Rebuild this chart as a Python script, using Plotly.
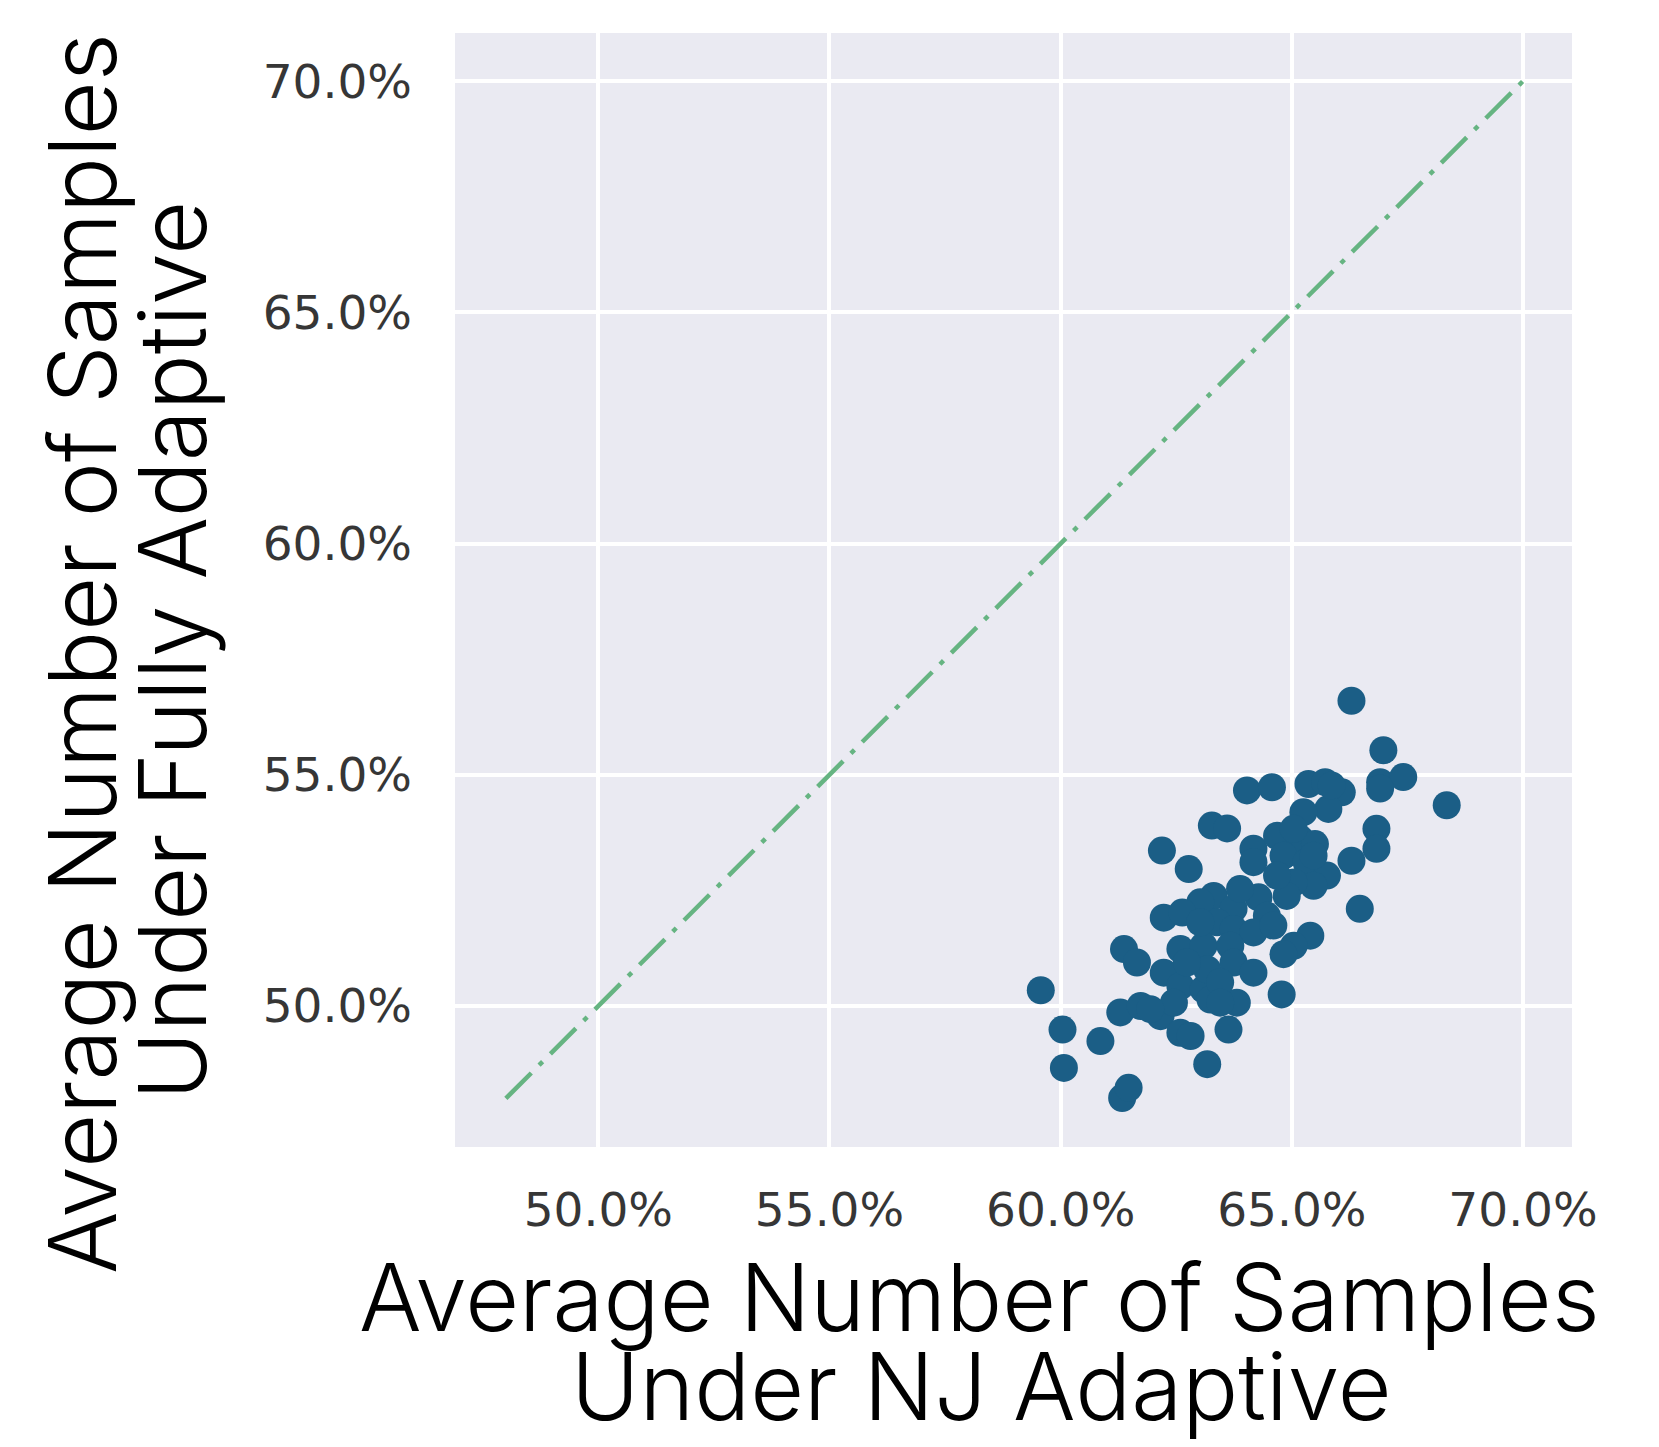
import plotly.graph_objects as go

# Data (percent values)
nj_adaptive = [66.29, 66.98, 66.91, 67.41, 66.91, 68.35, 64.03, 64.57, 65.36, 65.72,
               66.08, 65.79, 65.25, 63.27, 63.60, 62.19, 62.77, 64.17, 64.68, 65.18,
               65.50, 64.17, 64.82, 65.32, 66.83, 66.83, 66.29, 65.76, 65.47, 65.04,
               64.89, 64.28, 66.47, 63.31, 63.02, 63.74, 62.23, 62.63, 63.38, 64.46,
               63.74, 64.17, 65.40, 65.04, 64.82, 61.37, 61.65, 62.59, 63.09, 63.67,
               62.23, 62.59, 63.09, 63.17, 63.74, 64.17, 63.81, 64.78, 59.57, 60.04,
               60.86, 61.29, 61.73, 62.16, 62.59, 62.81, 63.63, 63.17, 60.07, 61.33,
               61.47, 63.24, 63.45, 62.45, 61.94, 63.02, 64.68, 65.47, 65.04, 65.86,
               63.88, 64.60, 62.73, 63.45]
fully_adaptive = [56.60, 55.53, 54.84, 54.95, 54.70, 54.34, 54.66, 54.73, 54.80, 54.84,
                  54.62, 54.26, 54.19, 53.90, 53.84, 53.36, 52.96, 53.40, 53.68, 53.61,
                  53.50, 53.11, 53.25, 53.11, 53.83, 53.40, 53.14, 52.82, 52.60, 52.67,
                  52.38, 52.35, 52.10, 52.38, 52.24, 52.10, 51.91, 52.02, 51.81, 51.95,
                  51.66, 51.59, 51.52, 51.30, 51.12, 51.23, 50.94, 51.23, 51.30, 51.30,
                  50.72, 50.43, 50.36, 50.79, 50.94, 50.72, 50.07, 50.25, 50.34, 49.49,
                  49.24, 49.86, 50.00, 49.78, 49.42, 49.35, 49.49, 48.74, 48.66, 48.01,
                  48.23, 50.14, 50.51, 50.07, 49.93, 51.81, 52.82, 53.25, 53.83, 54.77,
                  52.53, 51.74, 50.94, 50.07]
diag = [48, 70]
tick_vals = [50, 55, 60, 65, 70]
tick_text = ["50.0%", "55.0%", "60.0%", "65.0%", "70.0%"]
x_range = [46.9, 71.06]
y_range = [46.95, 71.04]

OFF = 8  # browser body margin
W, H = 1659 - 2 * OFF, 1447 - 2 * OFF
# plot area in page pixels: x 455..1572, y 33..1147
L = 455 - OFF
T = 33 - OFF
R = W - (1572 - OFF)
B = H - (1147 - OFF)
pw = W - L - R
ph = H - T - B


def px(x):
    return (x - OFF - L) / pw


def py(y):
    return (H - B - (y - OFF)) / ph


fig = go.Figure()
fig.add_trace(go.Scatter(
    x=diag, y=diag, mode="lines",
    line=dict(color="#66b482", width=4.5, dash="36px,11px,5px,11px"),
    hoverinfo="skip", showlegend=False))
fig.add_trace(go.Scatter(
    x=nj_adaptive, y=fully_adaptive, mode="markers",
    marker=dict(color="#1b5e86", size=28, line=dict(width=0)),
    showlegend=False))

tick_font = dict(family="DejaVu Sans", size=47, color="#363636")
axis_common = dict(tickvals=tick_vals, ticktext=tick_text,
                   showgrid=True, gridcolor="white", gridwidth=4, zeroline=False,
                   showline=False, ticks="", tickfont=tick_font)
fig.update_xaxes(**axis_common, range=x_range, ticklabelstandoff=31)
fig.update_yaxes(**axis_common, range=y_range, ticklabelstandoff=42)

title_font = dict(family="Inter", size=93, color="black", weight=300)
ann = [
    dict(text="Average Number of Samples", x=px(979), y=py(1297), xanchor="center", yanchor="middle"),
    dict(text="Under NJ Adaptive", x=px(981), y=py(1386), xanchor="center", yanchor="middle"),
    dict(text="Average Number of Samples", x=px(82), y=py(654), xanchor="center", yanchor="middle", textangle=-90),
    dict(text="Under Fully Adaptive", x=px(172), y=py(651), xanchor="center", yanchor="middle", textangle=-90),
]
for a in ann:
    fig.add_annotation(xref="paper", yref="paper", showarrow=False, font=title_font, **a)
fig.add_annotation(xref="paper", yref="paper", showarrow=False, text="%",
                   x=px(12), y=py(1208), xanchor="right", yanchor="middle", font=tick_font)

fig.update_layout(
    width=W, height=H, margin=dict(l=L, r=R, t=T, b=B, autoexpand=False),
    paper_bgcolor="white", plot_bgcolor="#eaeaf2", showlegend=False)

fig.write_html("out.html")
